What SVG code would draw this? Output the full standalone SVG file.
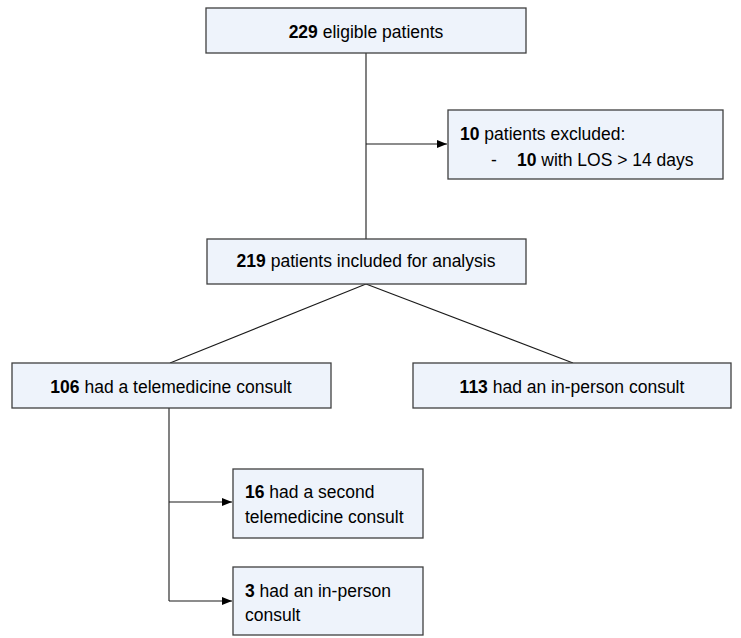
<svg xmlns="http://www.w3.org/2000/svg" width="741" height="638" viewBox="0 0 741 638">
<style>
.box{fill:#EEF3FB;stroke:#3f3f3f;stroke-width:1.3}
.t{font-family:"Liberation Sans",Arial,sans-serif;font-size:17.5px;fill:#000}
.b{font-weight:bold}
.c{fill:none;stroke:#1a1a1a;stroke-width:1.1}
</style>
<defs>
<marker id="arr" viewBox="0 0 10 10" refX="10" refY="5" markerWidth="10" markerHeight="10" markerUnits="userSpaceOnUse" orient="auto">
<path d="M0,1 L10,5 L0,9 z" fill="#000"/>
</marker>
</defs>
<rect width="741" height="638" fill="#fff"/>
<g id="connectors">
<line class="c" x1="366" y1="53" x2="366" y2="239"/>
<line class="c" x1="366" y1="144" x2="447" y2="144" marker-end="url(#arr)"/>
<line class="c" x1="366" y1="284" x2="170" y2="363"/>
<line class="c" x1="366" y1="284" x2="573" y2="363"/>
<line class="c" x1="169" y1="408" x2="169" y2="601"/>
<line class="c" x1="169" y1="502" x2="232" y2="502" marker-end="url(#arr)"/>
<line class="c" x1="169" y1="601" x2="232" y2="601" marker-end="url(#arr)"/>
</g>
<g id="n1">
<rect class="box" x="206" y="8" width="320" height="45"/>
<text class="t" x="366" y="37.5" text-anchor="middle"><tspan class="b">229</tspan> eligible patients</text>
</g>
<g id="n2">
<rect class="box" x="448" y="110" width="275" height="69"/>
<text class="t" x="460" y="140"><tspan class="b">10</tspan> patients excluded:</text>
<text class="t" x="491" y="166">-</text>
<text class="t" x="517" y="166"><tspan class="b">10</tspan> with LOS &gt; 14 days</text>
</g>
<g id="n3">
<rect class="box" x="207" y="239" width="319" height="45"/>
<text class="t" x="366" y="267" text-anchor="middle"><tspan class="b">219</tspan> patients included for analysis</text>
</g>
<g id="n4">
<rect class="box" x="12" y="363" width="319" height="45"/>
<text class="t" x="171" y="392.5" text-anchor="middle"><tspan class="b">106</tspan> had a telemedicine consult</text>
</g>
<g id="n5">
<rect class="box" x="413" y="363" width="318" height="45"/>
<text class="t" x="572" y="392.5" text-anchor="middle"><tspan class="b">113</tspan> had an in-person consult</text>
</g>
<g id="n6">
<rect class="box" x="233" y="469" width="190" height="69"/>
<text class="t" x="245" y="498"><tspan class="b">16</tspan> had a second</text>
<text class="t" x="245" y="523">telemedicine consult</text>
</g>
<g id="n7">
<rect class="box" x="233" y="567" width="190" height="68"/>
<text class="t" x="245" y="597"><tspan class="b">3</tspan> had an in-person</text>
<text class="t" x="245" y="621">consult</text>
</g>
</svg>
